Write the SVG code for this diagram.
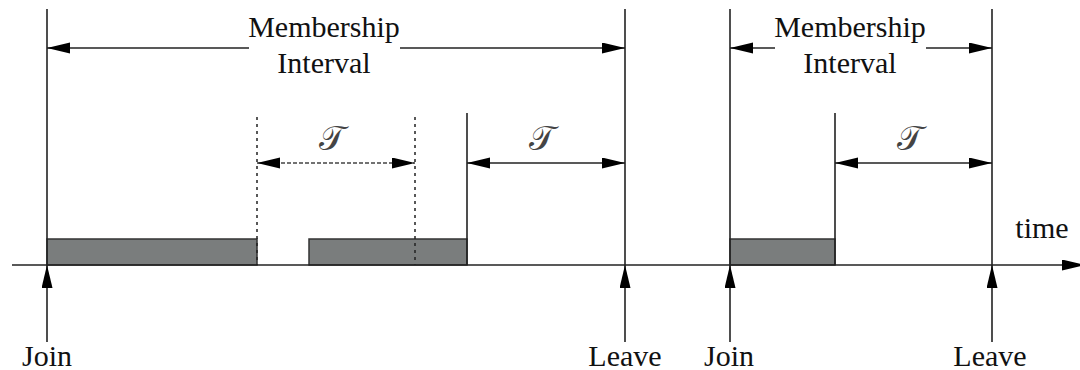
<svg xmlns="http://www.w3.org/2000/svg" width="1080" height="370" viewBox="0 0 1080 370">
  <style>
    .ln{stroke:#222;stroke-width:1.6;fill:none}
    .dot{stroke:#222;stroke-width:1.5;stroke-dasharray:3 4;fill:none}
    .dash{stroke:#444;stroke-width:1.5;stroke-dasharray:4 2;fill:none}
    .bar{fill:#7a7d7d;stroke:#333;stroke-width:1.5}
    .t{font-size:30px;fill:#111}
    .tau{font-size:34px;fill:#444}
  </style>
  <defs>
    <marker id="ah" markerUnits="userSpaceOnUse" markerWidth="24" markerHeight="12" refX="23" refY="5.5" orient="auto-start-reverse" viewBox="0 0 24 12">
      <path d="M0,0 L23,5.5 L0,11 z" fill="#000"/>
    </marker>
  </defs>
  <rect width="1080" height="370" fill="#fff"/>

  <g id="bars">
    <rect id="bar1" class="bar" x="47" y="239" width="210" height="26"/>
    <rect id="bar2" class="bar" x="309" y="239" width="158" height="26"/>
    <rect id="bar3" class="bar" x="730" y="239" width="105" height="26"/>
  </g>

  <g id="markers-lines">
    <line class="ln" x1="47" y1="9" x2="47" y2="265"/>
    <line class="ln" x1="625" y1="9" x2="625" y2="265"/>
    <line class="ln" x1="730" y1="9" x2="730" y2="265"/>
    <line class="ln" x1="992" y1="9" x2="992" y2="265"/>
    <line class="ln" x1="467" y1="113" x2="467" y2="265"/>
    <line class="ln" x1="835" y1="113" x2="835" y2="265"/>
    <line class="dot" x1="257" y1="117" x2="257" y2="265"/>
    <line class="dot" x1="415" y1="117" x2="415" y2="265"/>
  </g>

  <g id="connectors">
    <line id="axis" class="ln" x1="12" y1="265" x2="1085" y2="265" marker-end="url(#ah)"/>
    <line class="ln" x1="249" y1="48" x2="47" y2="48" marker-end="url(#ah)"/>
    <line class="ln" x1="400" y1="48" x2="625" y2="48" marker-end="url(#ah)"/>
    <line class="ln" x1="775" y1="48" x2="730" y2="48" marker-end="url(#ah)"/>
    <line class="ln" x1="926" y1="48" x2="992" y2="48" marker-end="url(#ah)"/>
    <line class="dash" x1="257" y1="163" x2="415" y2="163" marker-start="url(#ah)" marker-end="url(#ah)"/>
    <line class="ln" x1="467" y1="163" x2="625" y2="163" marker-start="url(#ah)" marker-end="url(#ah)"/>
    <line class="ln" x1="835" y1="163" x2="992" y2="163" marker-start="url(#ah)" marker-end="url(#ah)"/>
    <line class="ln" x1="47" y1="342" x2="47" y2="265" marker-end="url(#ah)"/>
    <line class="ln" x1="625" y1="342" x2="625" y2="265" marker-end="url(#ah)"/>
    <line class="ln" x1="730" y1="342" x2="730" y2="265" marker-end="url(#ah)"/>
    <line class="ln" x1="992" y1="342" x2="992" y2="265" marker-end="url(#ah)"/>
  </g>

  <g font-family="Liberation Serif, Times New Roman, DejaVu Serif, serif">
    <g id="interval1">
      <text class="t" x="324" y="37" text-anchor="middle">Membership</text>
      <text class="t" x="324" y="73" text-anchor="middle">Interval</text>
    </g>
    <g id="interval2">
      <text class="t" x="850" y="37" text-anchor="middle">Membership</text>
      <text class="t" x="850" y="73" text-anchor="middle">Interval</text>
    </g>
    <g id="time-label"><text class="t" x="1042" y="238" text-anchor="middle">time</text></g>
    <g id="join1"><text class="t" x="47" y="366" text-anchor="middle">Join</text></g>
    <g id="leave1"><text class="t" x="625" y="366" text-anchor="middle">Leave</text></g>
    <g id="join2"><text class="t" x="729" y="366" text-anchor="middle">Join</text></g>
    <g id="leave2"><text class="t" x="990" y="366" text-anchor="middle">Leave</text></g>
  </g>
  <g font-family="DejaVu Serif, DejaVu Sans, serif">
    <g id="tau1"><text class="tau" x="332" y="150" text-anchor="middle">𝒯</text></g>
    <g id="tau2"><text class="tau" x="542" y="150" text-anchor="middle">𝒯</text></g>
    <g id="tau3"><text class="tau" x="910" y="150" text-anchor="middle">𝒯</text></g>
  </g>
</svg>
